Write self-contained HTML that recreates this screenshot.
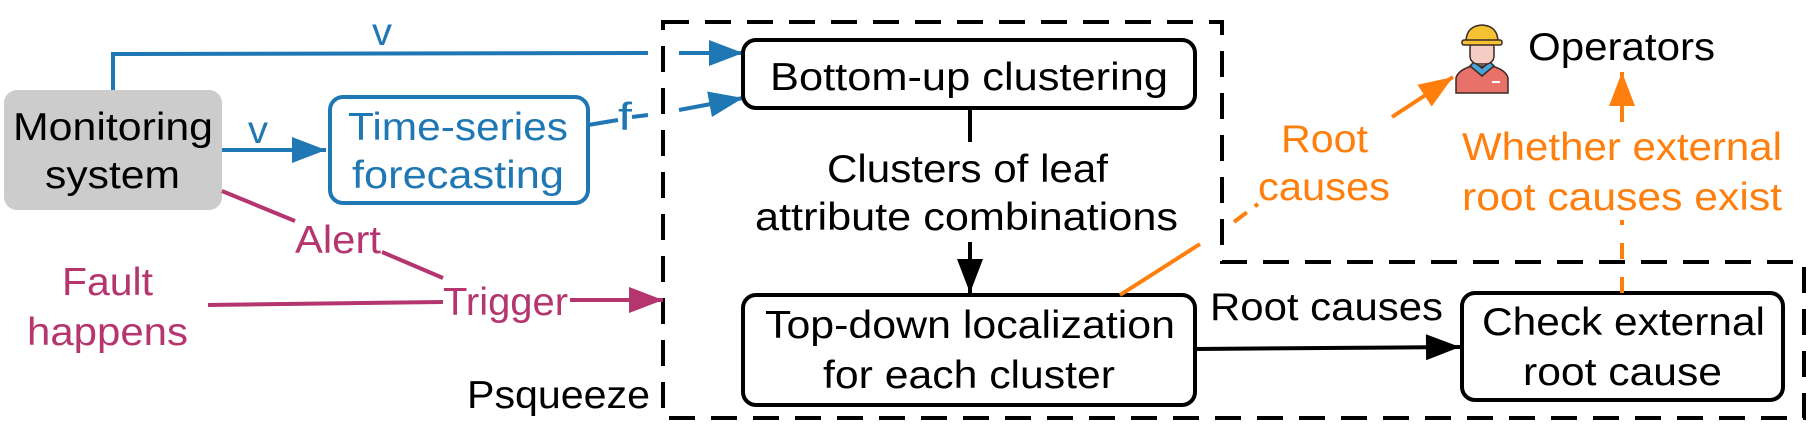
<!DOCTYPE html>
<html><head><meta charset="utf-8"><style>
html,body{margin:0;padding:0;background:#fff;}
svg{display:block;}
text{font-family:"Liberation Sans",Arial,sans-serif;font-size:39px;}
</style></head><body>
<svg width="1817" height="441" viewBox="0 0 1817 441" xmlns="http://www.w3.org/2000/svg">
<defs>
<marker id="ab" markerWidth="10" markerHeight="10" refX="0" refY="0" overflow="visible" orient="auto" markerUnits="userSpaceOnUse"><path d="M-34,-13 L0,0 L-34,13 Z" fill="#1f77b4"/></marker>
<marker id="ap" markerWidth="10" markerHeight="10" refX="0" refY="0" overflow="visible" orient="auto" markerUnits="userSpaceOnUse"><path d="M-34,-13 L0,0 L-34,13 Z" fill="#b5356f"/></marker>
<marker id="ak" markerWidth="10" markerHeight="10" refX="0" refY="0" overflow="visible" orient="auto" markerUnits="userSpaceOnUse"><path d="M-34,-13 L0,0 L-34,13 Z" fill="#000"/></marker>
<marker id="ao" markerWidth="10" markerHeight="10" refX="0" refY="0" overflow="visible" orient="auto" markerUnits="userSpaceOnUse"><path d="M-34,-13 L0,0 L-34,13 Z" fill="#ff7f0e"/></marker>
</defs>

<path d="M663,22 L1222,22 L1222,262 L1804,262 L1804,418 L663,418 Z" fill="none" stroke="#000" stroke-width="4" stroke-dasharray="26,16"/>
<text x="467" y="408" textLength="183" lengthAdjust="spacingAndGlyphs">Psqueeze</text>

<rect x="4" y="90" width="218" height="120" rx="13" fill="#cccccc"/>
<text x="13" y="140" textLength="200" lengthAdjust="spacingAndGlyphs">Monitoring</text>
<text x="45" y="188" textLength="135" lengthAdjust="spacingAndGlyphs">system</text>

<path d="M113,90 L113,54 L648,53" fill="none" stroke="#1f77b4" stroke-width="4"/>
<line x1="679" y1="53" x2="743" y2="53" stroke="#1f77b4" stroke-width="4" marker-end="url(#ab)"/>
<text x="372" y="45" fill="#1f77b4" textLength="20" lengthAdjust="spacingAndGlyphs">v</text>

<line x1="222" y1="150" x2="326" y2="150" stroke="#1f77b4" stroke-width="4" marker-end="url(#ab)"/>
<text x="248" y="143" fill="#1f77b4" textLength="20" lengthAdjust="spacingAndGlyphs">v</text>

<rect x="330" y="97" width="258" height="106" rx="13" fill="none" stroke="#1f77b4" stroke-width="4"/>
<text x="348" y="140" fill="#1f77b4" textLength="220" lengthAdjust="spacingAndGlyphs">Time-series</text>
<text x="352" y="188" fill="#1f77b4" textLength="212" lengthAdjust="spacingAndGlyphs">forecasting</text>

<line x1="588" y1="125" x2="618" y2="120" stroke="#1f77b4" stroke-width="4"/>
<line x1="632" y1="117" x2="648" y2="115" stroke="#1f77b4" stroke-width="4"/>
<line x1="679" y1="110" x2="743" y2="98" stroke="#1f77b4" stroke-width="4" marker-end="url(#ab)"/>
<text x="618" y="130" fill="#1f77b4" textLength="14" lengthAdjust="spacingAndGlyphs">f</text>

<line x1="222" y1="191" x2="295" y2="221" stroke="#b5356f" stroke-width="4"/>
<text x="295" y="253" fill="#b5356f" textLength="86" lengthAdjust="spacingAndGlyphs">Alert</text>
<line x1="382" y1="252" x2="443" y2="278" stroke="#b5356f" stroke-width="4"/>
<text x="62" y="295" fill="#b5356f" textLength="91" lengthAdjust="spacingAndGlyphs">Fault</text>
<text x="27" y="345" fill="#b5356f" textLength="161" lengthAdjust="spacingAndGlyphs">happens</text>
<line x1="208" y1="305" x2="443" y2="302" stroke="#b5356f" stroke-width="4"/>
<text x="443" y="315" fill="#b5356f" textLength="125" lengthAdjust="spacingAndGlyphs">Trigger</text>
<line x1="570" y1="300" x2="663" y2="300" stroke="#b5356f" stroke-width="4" marker-end="url(#ap)"/>

<rect x="743" y="40" width="452" height="68" rx="13" fill="#fff" stroke="#000" stroke-width="4"/>
<text x="770" y="90" textLength="398" lengthAdjust="spacingAndGlyphs">Bottom-up clustering</text>
<line x1="970" y1="108" x2="970" y2="142" stroke="#000" stroke-width="4"/>
<text x="827" y="182" textLength="281" lengthAdjust="spacingAndGlyphs">Clusters of leaf</text>
<text x="755" y="230" textLength="423" lengthAdjust="spacingAndGlyphs">attribute combinations</text>
<line x1="970" y1="242" x2="970" y2="293" stroke="#000" stroke-width="4" marker-end="url(#ak)"/>

<rect x="743" y="295" width="452" height="110" rx="13" fill="#fff" stroke="#000" stroke-width="4"/>
<text x="765" y="338" textLength="410" lengthAdjust="spacingAndGlyphs">Top-down localization</text>
<text x="823" y="388" textLength="292" lengthAdjust="spacingAndGlyphs">for each cluster</text>

<line x1="1195" y1="349" x2="1460" y2="347" stroke="#000" stroke-width="4" marker-end="url(#ak)"/>
<text x="1210" y="320" textLength="233" lengthAdjust="spacingAndGlyphs">Root causes</text>

<rect x="1462" y="293" width="321" height="107" rx="13" fill="#fff" stroke="#000" stroke-width="4"/>
<text x="1482" y="335" textLength="283" lengthAdjust="spacingAndGlyphs">Check external</text>
<text x="1523" y="385" textLength="199" lengthAdjust="spacingAndGlyphs">root cause</text>

<line x1="1120" y1="295" x2="1200" y2="244" stroke="#ff7f0e" stroke-width="4"/>
<line x1="1234" y1="222" x2="1258" y2="204" stroke="#ff7f0e" stroke-width="4" stroke-dasharray="16,10"/>
<line x1="1392" y1="117" x2="1453" y2="77" stroke="#ff7f0e" stroke-width="4" marker-end="url(#ao)"/>
<text x="1281" y="152" fill="#ff7f0e" textLength="87" lengthAdjust="spacingAndGlyphs">Root</text>
<text x="1258" y="200" fill="#ff7f0e" textLength="132" lengthAdjust="spacingAndGlyphs">causes</text>

<line x1="1622" y1="293" x2="1622" y2="220" stroke="#ff7f0e" stroke-width="4" stroke-dasharray="16,18"/>
<line x1="1622" y1="122" x2="1622" y2="72" stroke="#ff7f0e" stroke-width="4" marker-end="url(#ao)"/>
<text x="1462" y="160" fill="#ff7f0e" textLength="320" lengthAdjust="spacingAndGlyphs">Whether external</text>
<text x="1462" y="210" fill="#ff7f0e" textLength="320" lengthAdjust="spacingAndGlyphs">root causes exist</text>

<g stroke="#3a2a25" stroke-width="1.5">
<path d="M1456,93 L1456,78 Q1458,70 1472,66 L1492,66 Q1506,70 1508,78 L1508,93 Z" fill="#e8726a"/>
<path d="M1470,66 L1482,76 L1494,66 L1490,62 L1482,68 L1474,62 Z" fill="#4aa3d8"/>
<rect x="1470" y="40" width="24" height="24" rx="8" fill="#f6cdc4"/>
<path d="M1466,42 Q1466,26 1482,25 Q1498,26 1498,42 Z" fill="#f5c232"/>
<rect x="1462" y="40" width="40" height="5" rx="2" fill="#f5c232"/>
</g>
<rect x="1492" y="81" width="8" height="2" fill="#fff"/>
<text x="1528" y="60" textLength="187" lengthAdjust="spacingAndGlyphs">Operators</text>
</svg>
</body></html>
